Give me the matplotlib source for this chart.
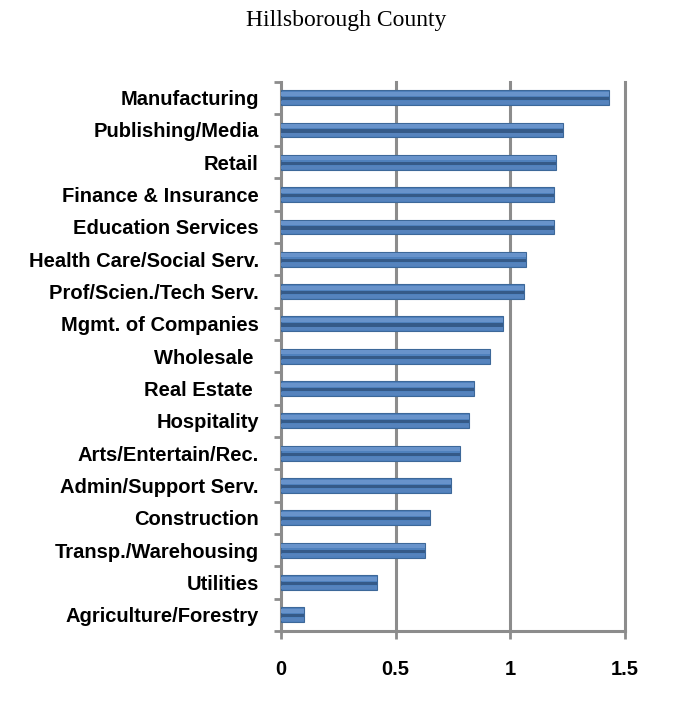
import matplotlib.pyplot as plt
import numpy as np

industries = ["Manufacturing", "Publishing/Media", "Retail", "Finance & Insurance",
              "Education Services", "Health Care/Social Serv.", "Prof/Scien./Tech Serv.",
              "Mgmt. of Companies", "Wholesale ", "Real Estate ", "Hospitality",
              "Arts/Entertain/Rec.", "Admin/Support Serv.", "Construction",
              "Transp./Warehousing", "Utilities", "Agriculture/Forestry"]
values = [1.43, 1.23, 1.20, 1.19, 1.19, 1.07, 1.06, 0.97, 0.91, 0.84, 0.82,
          0.78, 0.74, 0.65, 0.63, 0.42, 0.10]
xticks = [0, 0.5, 1, 1.5]
xticklabels = ["0", "0.5", "1", "1.5"]

grey = "#8c8c8c"
fig = plt.figure(figsize=(6.73, 7.15), dpi=100)
ax = fig.add_axes([0.4175, 0.1175, 0.511, 0.7685])

y = np.arange(len(industries))
# bevelled look: base bar, light upper band, dark centre stripe
ax.barh(y, values, height=0.46, color="#4f81bd", edgecolor="#3d6899", linewidth=0.8, zorder=3)
ax.barh(y - 0.12, values, height=0.12, color="#6893cb", linewidth=0, zorder=4)
ax.barh(y + 0.03, values, height=0.1, color="#355a88", linewidth=0, zorder=4)
ax.barh(y + 0.15, values, height=0.09, color="#5683bd", linewidth=0, zorder=4)

ax.set_xlim(0, 1.5)
ax.set_ylim(len(industries) - 0.5, -0.5)
ax.set_xticks(xticks)
ax.set_xticklabels(xticklabels)
ax.set_yticks(y)
ax.set_yticklabels(industries)
ax.set_yticks(np.arange(len(industries) + 1) - 0.5, minor=True)

for v in xticks[1:]:
    ax.axvline(v, color=grey, linewidth=2.2, zorder=1, clip_on=False)

for s in ["top", "right"]:
    ax.spines[s].set_visible(False)
for s in ["left", "bottom"]:
    ax.spines[s].set_color(grey)
    ax.spines[s].set_linewidth(2.2)

ax.tick_params(axis="y", which="major", length=0, pad=16)
ax.tick_params(axis="y", which="minor", length=5, width=2, color=grey)
ax.tick_params(axis="x", length=6, width=2, color=grey, pad=15)
for lbl in ax.get_xticklabels() + ax.get_yticklabels():
    lbl.set_fontfamily("Liberation Sans")
    lbl.set_fontweight("bold")
    lbl.set_fontsize(14.5)

fig.text(0.515, 0.972, "Hillsborough County", ha="center", va="center",
         fontsize=17, family="Liberation Serif")

plt.savefig("out.png", dpi=100)
